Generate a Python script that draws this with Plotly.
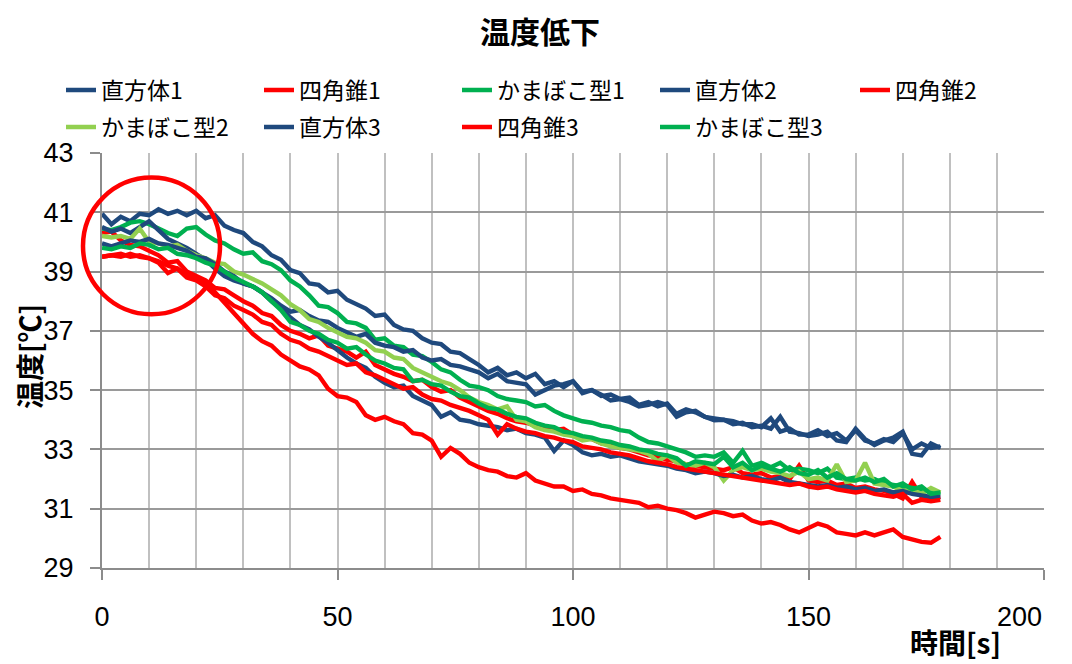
import plotly.graph_objects as go

# time axis (s), sampled every 2 s
time_s = list(range(0, 180, 2))

cuboid_1 = [40.95, 40.6, 40.85, 40.7, 40.95, 40.9, 41.1, 40.95, 41.05, 40.9,
            41.05, 40.8, 40.9, 40.55, 40.4, 40.3, 40.0, 39.85, 39.55, 39.4,
            39.05, 38.95, 38.6, 38.55, 38.3, 38.35, 38.05, 37.9, 37.75, 37.5,
            37.55, 37.2, 37.05, 37.0, 36.75, 36.6, 36.55, 36.3, 36.25, 36.05,
            35.85, 35.6, 35.75, 35.5, 35.6, 35.4, 35.55, 35.2, 35.3, 35.1,
            35.3, 34.95, 35.0, 34.8, 34.85, 34.7, 34.75, 34.5, 34.6, 34.45,
            34.55, 34.2, 34.35, 34.25, 34.1, 34.05, 34.0, 33.95, 33.85, 33.85,
            33.75, 34.05, 33.6, 33.7, 33.5, 33.5, 33.65, 33.45, 33.55, 33.3,
            33.65, 33.3, 33.2, 33.35, 33.25, 33.55, 33.0, 33.2, 33.05, 33.1]

cuboid_2 = [40.5, 40.35, 40.45, 40.3, 40.5, 40.7, 40.4, 40.1, 39.95, 39.8,
            39.6, 39.4, 39.1, 38.85, 38.7, 38.6, 38.5, 38.3, 38.1, 37.85,
            37.65, 37.7, 37.5, 37.35, 37.3, 37.1, 36.95, 36.8, 36.9, 36.6,
            36.5, 36.45, 36.3, 36.35, 36.1, 36.0, 36.05, 35.85, 35.8, 35.7,
            35.6, 35.4, 35.55, 35.3, 35.25, 35.2, 34.85, 35.0, 35.15, 35.2,
            35.3, 34.9, 35.0, 34.85, 34.65, 34.7, 34.6, 34.45, 34.5, 34.6,
            34.5, 34.1, 34.25, 34.3, 34.1, 33.98, 34.0, 33.85, 33.9, 33.75,
            33.8, 33.7, 34.1, 33.6, 33.55, 33.45, 33.5, 33.6, 33.3, 33.25,
            33.7, 33.35, 33.15, 33.3, 33.4, 33.6, 32.85, 32.8, 33.2, 33.05]

cuboid_3 = [39.95, 39.85, 39.95, 40.05, 40.0, 40.1, 39.95, 39.9, 39.8, 39.7,
            39.5, 39.45, 39.25, 39.0, 38.85, 38.6, 38.5, 38.3, 38.0, 37.75,
            37.45, 37.2, 37.05, 36.8, 36.6, 36.35, 36.1, 35.9, 35.75, 35.45,
            35.25, 35.1, 35.15, 34.8, 34.65, 34.5, 34.1, 34.25, 34.0, 33.95,
            33.85, 33.8, 33.75, 33.65, 33.7, 33.55, 33.5, 33.4, 32.95, 33.3,
            33.15, 32.9, 32.8, 32.85, 32.75, 32.8, 32.7, 32.6, 32.55, 32.5,
            32.45, 32.35, 32.3, 32.2, 32.25, 32.2, 32.1, 32.15, 32.05, 32.1,
            32.0, 31.95, 32.05, 31.9, 31.85, 31.8, 31.75, 31.8, 31.7, 31.75,
            31.65, 31.7, 31.6, 31.65, 31.55, 31.6, 31.5, 31.45, 31.4, 31.4]

pyramid_1 = [40.3, 40.35, 40.05, 39.9, 39.85, 39.7, 39.55, 39.3, 39.35, 39.0,
             38.85, 38.7, 38.45, 38.4, 38.2, 38.0, 37.85, 37.6, 37.5, 37.2,
             37.0, 36.9, 36.75, 36.85, 36.5, 36.4, 36.3, 36.1, 36.3, 35.85,
             35.7, 35.55, 35.45, 35.3, 35.35, 35.1, 34.95, 35.0, 34.75, 34.6,
             34.45, 34.3, 34.2, 34.05, 33.95, 33.9, 33.8, 33.75, 33.65, 33.7,
             33.5, 33.4, 33.35, 33.2, 33.15, 33.05, 33.0, 32.9, 32.8, 32.75,
             32.65, 32.6, 32.5, 32.45, 32.4, 32.35, 32.3, 32.4, 32.2, 32.15,
             32.2, 32.05, 32.1, 32.0, 32.45, 31.95, 31.9, 31.95, 31.8, 31.85,
             31.7, 31.75, 31.65, 31.6, 31.5, 31.35, 31.9, 31.4, 31.35, 31.4]

pyramid_2 = [39.5, 39.55, 39.5, 39.6, 39.5, 39.45, 39.35, 39.2, 39.1, 38.9,
             38.75, 38.6, 38.3, 37.95, 37.55, 37.2, 36.9, 36.65, 36.5, 36.2,
             36.0, 35.8, 35.7, 35.5, 35.05, 34.8, 34.75, 34.6, 34.15, 34.0,
             34.1, 33.95, 33.85, 33.55, 33.5, 33.3, 32.75, 33.05, 32.85, 32.55,
             32.4, 32.3, 32.25, 32.1, 32.05, 32.2, 31.95, 31.85, 31.75, 31.75,
             31.6, 31.65, 31.5, 31.45, 31.35, 31.3, 31.25, 31.2, 31.05, 31.1,
             31.0, 30.95, 30.85, 30.7, 30.8, 30.9, 30.85, 30.75, 30.8, 30.6,
             30.5, 30.55, 30.45, 30.3, 30.2, 30.35, 30.5, 30.4, 30.2, 30.15,
             30.1, 30.2, 30.1, 30.2, 30.3, 30.05, 29.95, 29.88, 29.85, 30.05]

pyramid_3 = [39.5, 39.55, 39.6, 39.5, 39.55, 39.45, 39.3, 38.95, 39.1, 38.8,
             38.7, 38.5, 38.2, 38.1, 37.85, 37.7, 37.55, 37.3, 37.2, 36.9,
             36.7, 36.6, 36.4, 36.3, 36.15, 36.0, 35.85, 35.9, 35.6, 35.5,
             35.35, 35.2, 35.05, 35.1, 34.85, 34.7, 34.65, 34.5, 34.4, 34.3,
             34.15, 34.0, 33.5, 33.85, 33.7, 33.6, 33.55, 33.45, 33.4, 33.3,
             33.25, 33.1, 33.05, 33.0, 32.9, 32.85, 32.8, 32.7, 32.6, 32.55,
             32.5, 32.4, 32.35, 32.3, 32.25, 32.2, 32.15, 32.1, 32.05, 32.0,
             31.95, 31.9, 31.85, 31.8, 31.85, 31.75, 31.7, 31.75, 31.65, 31.6,
             31.55, 31.6, 31.5, 31.45, 31.4, 31.5, 31.2, 31.3, 31.25, 31.3]

kamaboko_1 = [40.45, 40.4, 40.5, 40.65, 40.7, 40.6, 40.45, 40.3, 40.2, 40.45,
              40.5, 40.25, 40.05, 39.95, 39.75, 39.6, 39.65, 39.35, 39.25, 39.05,
              38.7, 38.5, 38.2, 37.85, 37.8, 37.6, 37.3, 37.25, 37.1, 36.7,
              36.75, 36.5, 36.45, 36.2, 36.15, 35.95, 35.7, 35.6, 35.35, 35.15,
              35.1, 35.0, 34.8, 34.7, 34.65, 34.6, 34.45, 34.5, 34.3, 34.15,
              34.05, 33.95, 33.9, 33.8, 33.75, 33.65, 33.6, 33.4, 33.25, 33.2,
              33.1, 33.0, 32.9, 32.75, 32.8, 32.75, 32.9, 32.55, 32.95, 32.45,
              32.55, 32.4, 32.55, 32.3, 32.35, 32.3, 32.2, 32.35, 32.05, 32.0,
              32.05, 31.95, 32.0, 31.85, 31.8, 31.75, 31.7, 31.65, 31.55, 31.5]

kamaboko_2 = [40.2, 40.15, 40.2, 40.1, 40.45, 40.0, 39.95, 39.85, 39.9, 39.7,
              39.55, 39.45, 39.3, 39.25, 39.0, 38.9, 38.75, 38.6, 38.4, 38.2,
              37.9, 37.7, 37.4, 37.3, 37.1, 36.95, 36.8, 36.75, 36.6, 36.35,
              36.3, 36.1, 36.05, 35.75, 35.6, 35.45, 35.3, 35.2, 35.0, 34.75,
              34.6, 34.5, 34.35, 34.45, 34.0, 33.95, 33.75, 33.65, 33.6, 33.5,
              33.45, 33.3, 33.35, 33.2, 33.1, 33.05, 33.0, 32.95, 32.85, 32.6,
              32.8, 32.55, 32.5, 32.45, 32.55, 32.4, 31.95, 32.3, 32.4, 32.3,
              32.35, 32.25, 32.2, 32.1, 32.25, 32.0, 32.05, 31.95, 32.5, 31.9,
              31.95, 32.55, 31.85, 31.8, 31.75, 31.6, 31.65, 31.5, 31.7, 31.55]

kamaboko_3 = [39.8, 39.75, 39.85, 39.8, 39.95, 39.9, 39.75, 39.8, 39.6, 39.55,
              39.45, 39.3, 39.2, 39.0, 38.8, 38.65, 38.5, 38.3, 38.0, 37.7,
              37.3, 37.2, 37.0, 36.9, 36.7, 36.6, 36.4, 36.45, 36.2, 36.0,
              35.9, 35.75, 35.7, 35.3, 35.35, 35.2, 35.15, 34.95, 34.8, 34.75,
              34.55, 34.4, 34.35, 34.2, 34.1, 34.05, 33.9, 33.8, 33.75, 33.6,
              33.55, 33.45, 33.4, 33.3, 33.25, 33.15, 33.1, 33.0, 32.95, 32.85,
              32.8, 32.7, 32.45, 32.6, 32.55, 32.5, 32.75, 32.4, 32.55, 32.3,
              32.45, 32.35, 32.25, 32.4, 32.2, 32.15, 32.3, 32.05, 32.2, 32.0,
              31.95, 32.05, 31.9, 32.0, 31.75, 31.85, 31.65, 31.75, 31.5, 31.55]

series_names = ["直方体1", "四角錐1", "かまぼこ型1", "直方体2", "四角錐2",
                "かまぼこ型2", "直方体3", "四角錐3", "かまぼこ型3"]
series_values = [cuboid_1, pyramid_1, kamaboko_1, cuboid_2, pyramid_2,
                 kamaboko_2, cuboid_3, pyramid_3, kamaboko_3]
legend_groups = ["legend", "legend", "legend", "legend", "legend3",
                 "legend2", "legend2", "legend2", "legend2"]

BLUE = "#1F497D"
RED = "#FF0000"
GREEN = "#00B050"
LGREEN = "#92D050"
series_colors = [BLUE, RED, GREEN, BLUE, RED, LGREEN, BLUE, RED, GREEN]

x_ticks = [0, 50, 100, 150, 200]
x_tick_labels = ["0", "50", "100", "150", "200"]
y_ticks = [29, 31, 33, 35, 37, 39, 41, 43]

CJK = "Noto Sans CJK JP"
NUM = "Liberation Sans, Arial, sans-serif"

fig = go.Figure()
for name, vals, col, lg in zip(series_names, series_values, series_colors, legend_groups):
    fig.add_trace(go.Scatter(
        x=time_s, y=vals, name=name, mode="lines",
        line=dict(color=col, width=4.4), legend=lg,
    ))

# page offset: the page body has an 8 px margin, so figure coords = page coords - 8
OFF = 8
W, H = 1072 - OFF, 664 - OFF
L, R, T, B = 102 - OFF, 28, 153 - OFF, 96
PW, PH = W - L - R, H - T - B


def px(page_x):
    return (page_x - OFF - L) / PW


def py(page_y):
    return (H - B - (page_y - OFF)) / PH


legend_common = dict(
    orientation="h", xref="container", yref="container",
    xanchor="left", yanchor="middle",
    font=dict(family=CJK, size=23, color="#000"),
    entrywidth=153, entrywidthmode="pixels",
    bgcolor="rgba(0,0,0,0)", borderwidth=0, itemwidth=30,
)

# the last x label is drawn right-aligned to the frame edge (as in the reference)
last_label = x_tick_labels[-1]
tick_text = x_tick_labels[:-1] + [""]

fig.update_layout(
    width=W, height=H,
    margin=dict(l=L, r=R, t=T, b=B, autoexpand=False),
    paper_bgcolor="white", plot_bgcolor="white",
    title=dict(text="温度低下", x=(540 - OFF) / W, xanchor="center",
               xref="container", yref="container", y=1 - (32 - OFF) / H, yanchor="middle",
               font=dict(family=CJK, size=30, color="#000", weight="bold")),
    legend=dict(legend_common, x=(61 - OFF) / W, y=1 - (90 - OFF) / H),
    legend3=dict(legend_common, x=(855 - OFF) / W, y=1 - (90 - OFF) / H),
    legend2=dict(legend_common, x=(61 - OFF) / W, y=1 - (127 - OFF) / H),
    xaxis=dict(
        range=[0, 200], tickvals=x_ticks, ticktext=tick_text,
        ticks="outside", ticklen=10, tickwidth=1.5, tickcolor="#8c8c8c",
        showline=True, linecolor="#8c8c8c", linewidth=2,
        showgrid=True, gridcolor="#c0c0c0", gridwidth=1.5,
        minor=dict(dtick=10, tick0=0, showgrid=True, gridcolor="#c0c0c0", gridwidth=1.5, ticks=""),
        tickfont=dict(family=NUM, size=27, color="#000"),
        ticklabelstandoff=14, zeroline=False,
    ),
    yaxis=dict(
        range=[29, 43], tickvals=y_ticks, ticktext=[str(v) for v in y_ticks],
        ticks="outside", ticklen=10, tickwidth=1.5, tickcolor="#8c8c8c",
        showline=True, linecolor="#8c8c8c", linewidth=2,
        showgrid=True, gridcolor="#9a9a9a", gridwidth=1.8,
        tickfont=dict(family=NUM, size=27, color="#000"),
        ticklabelstandoff=11, zeroline=False,
    ),
    showlegend=True,
)

fig.add_annotation(text=last_label, xref="x", yref="paper",
                   x=x_ticks[-1], y=py(617), xanchor="right", yanchor="middle",
                   showarrow=False, font=dict(family=NUM, size=27, color="#000"))

# axis titles
fig.add_annotation(text="温度[℃]", textangle=-90, xref="paper", yref="paper",
                   x=px(29), y=py(357), xanchor="center", yanchor="middle",
                   showarrow=False, font=dict(family=CJK, size=28, color="#000", weight="bold"))
fig.add_annotation(text="時間[s]", xref="paper", yref="paper",
                   x=px(955), y=py(642), xanchor="center", yanchor="middle",
                   showarrow=False, font=dict(family=CJK, size=28, color="#000", weight="bold"))

# red circle highlighting the start region
fig.add_shape(type="circle", xref="paper", yref="y",
              x0=px(83), x1=px(220), y0=37.56, y1=42.17,
              line=dict(color=RED, width=4.5), layer="above")

fig.write_html("out.html")
